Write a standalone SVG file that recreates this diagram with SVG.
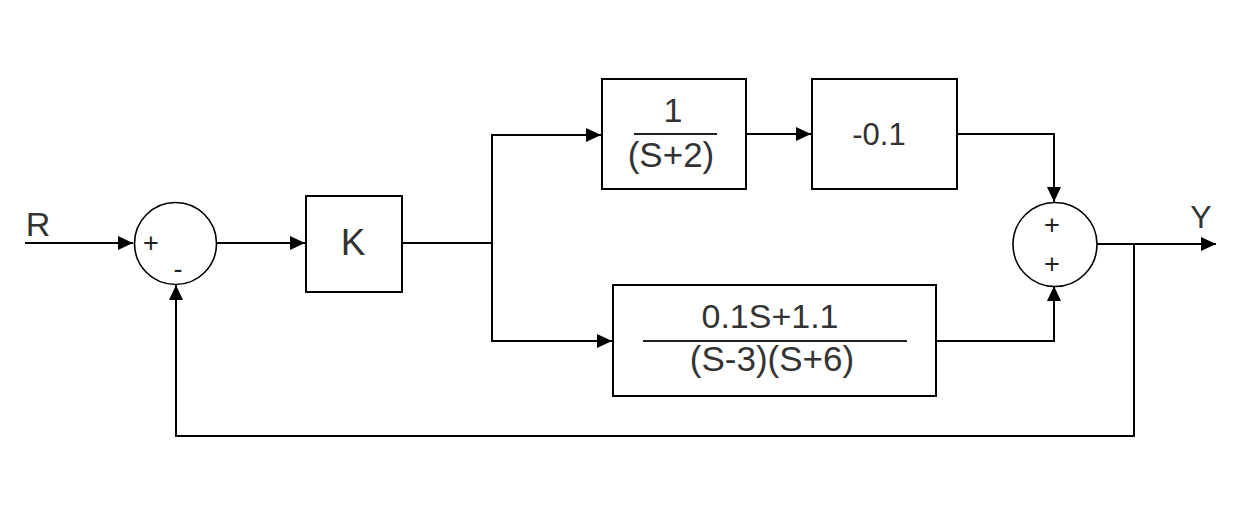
<svg xmlns="http://www.w3.org/2000/svg" width="1248" height="517" viewBox="0 0 1248 517">
<style>
  .blk { fill: #fff; stroke: #000; stroke-width: 2; }
  .sum { fill: #fff; stroke: #000; stroke-width: 1.6; }
  .ln { fill: none; stroke: #000; stroke-width: 2; }
  .arr { marker-end: url(#ah); }
  .t { font-family: "Liberation Sans", Arial, sans-serif; fill: #333; text-anchor: middle; }
  .sg { font-family: "Liberation Sans", Arial, sans-serif; fill: #222; text-anchor: middle; font-size: 27px; }
  .fr { stroke: #222; stroke-width: 2; }
</style>
<defs>
  <marker id="ah" markerUnits="userSpaceOnUse" markerWidth="16" markerHeight="14" refX="15" refY="7" orient="auto">
    <path d="M0,0 L15,7 L0,14 z" fill="#000"/>
  </marker>
</defs>
<rect width="1248" height="517" fill="#fff"/>

<g id="connectors">
  <path class="ln arr" d="M25,243 H133"/>
  <path class="ln arr" d="M217,243 H305"/>
  <path class="ln" d="M402,243 H492"/>
  <path class="ln arr" d="M492,243 V135 H601"/>
  <path class="ln arr" d="M492,243 V341 H612"/>
  <path class="ln arr" d="M746,134 H811"/>
  <path class="ln arr" d="M957,134 H1054 V202"/>
  <path class="ln arr" d="M936,341 H1054 V286"/>
  <path class="ln arr" d="M1097,244 H1216"/>
  <path class="ln arr" d="M1134,244 V436 H176 V285"/>
</g>

<g id="label-R"><text class="t" x="38" y="236" font-size="34">R</text></g>
<g id="label-Y"><text class="t" x="1201" y="228" font-size="32">Y</text></g>

<g id="sum1">
  <circle class="sum" cx="175.5" cy="243.5" r="41"/>
  <text class="sg" x="151" y="252">+</text>
  <text class="sg" x="178" y="278">-</text>
</g>

<g id="blockK">
  <rect class="blk" x="306" y="196" width="96" height="96"/>
  <text class="t" x="353" y="255" font-size="37">K</text>
</g>

<g id="block1">
  <rect class="blk" x="602" y="79" width="144" height="110"/>
  <text class="t" x="673" y="122" font-size="34">1</text>
  <line class="fr" x1="634" y1="134" x2="717" y2="134"/>
  <text class="t" x="671" y="167" font-size="35">(S+2)</text>
</g>

<g id="block2">
  <rect class="blk" x="812" y="79" width="145" height="110"/>
  <text class="t" x="879" y="145" font-size="31">-0.1</text>
</g>

<g id="block3">
  <rect class="blk" x="613" y="285" width="323" height="111"/>
  <text class="t" x="770" y="328" font-size="34">0.1S+1.1</text>
  <line class="fr" x1="643" y1="341" x2="907" y2="341"/>
  <text class="t" x="772" y="371" font-size="35">(S-3)(S+6)</text>
</g>

<g id="sum2">
  <circle class="sum" cx="1055" cy="244.5" r="42"/>
  <text class="sg" x="1052" y="234">+</text>
  <text class="sg" x="1052" y="273">+</text>
</g>
</svg>
